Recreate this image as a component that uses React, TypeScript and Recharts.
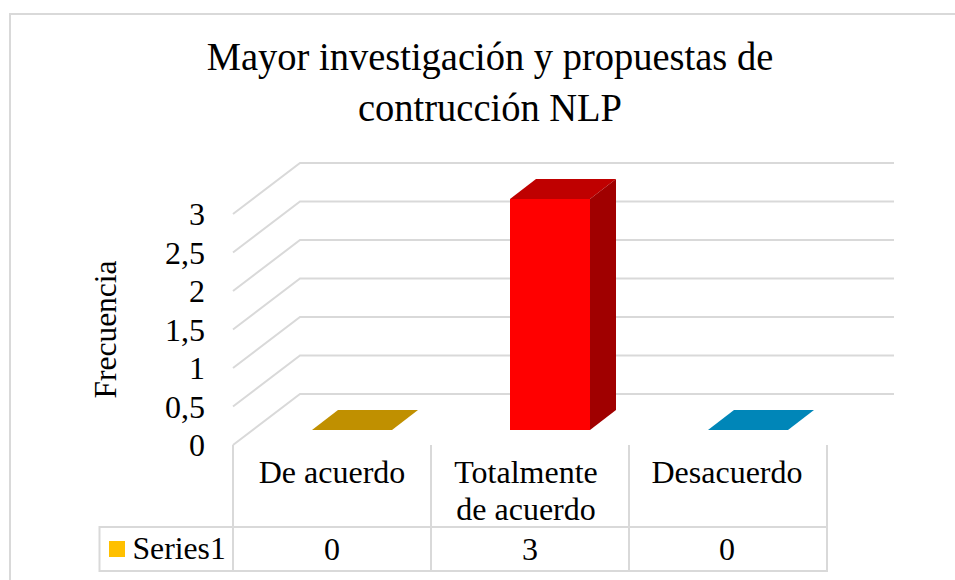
import React from "react";
import { BarChart, Bar, XAxis, YAxis, CartesianGrid, Customized } from "recharts";

const categories = ["De acuerdo", "Totalmente de acuerdo", "Desacuerdo"];
const categoryLines = [["De acuerdo"], ["Totalmente", "de acuerdo"], ["Desacuerdo"]];
const series1 = [0, 3, 0];
const yTicks = [0, 0.5, 1, 1.5, 2, 2.5, 3];
const titleLines = ["Mayor investigación y propuestas de", "contrucción NLP"];
const seriesName = "Series1";
const yTitle = "Frecuencia";

const frontColors = ["#ffc000", "#ff0000", "#00b0f0"];
const topColors = ["#c09000", "#bf0000", "#0086b8"];
const sideColors = ["#a07800", "#a00000", "#006f98"];

const data = categories.map((name, i) => ({ name, value: series1[i] }));

const W = 955;
const H = 580;
const LEFT = 233;
const RIGHT = 827;
const TOP = 214;
const BOTTOM = 445;
const BAND = (RIGHT - LEFT) / categories.length;
const WALL_DX = 67;
const WALL_DY = 51;
const BAR_SHIFT_X = 20;
const BAR_SHIFT_Y = 15;
const BAR_DX = 26;
const BAR_DY = 20;
const FONT = "'Liberation Serif', serif";
const LINE = "#d9d9d9";
const TABLE_BOTTOM = 571;
const ROW_TOP = 527;
const TABLE_LEFT = 99.5;

const GridLine = (p: any) => {
  const { x1, y1, x2 } = p;
  return (
    <polyline
      points={`${x1},${y1} ${x1 + WALL_DX},${y1 - WALL_DY} ${x2 + WALL_DX},${y1 - WALL_DY}`}
      fill="none"
      stroke={LINE}
      strokeWidth={2}
    />
  );
};

const Bar3D = (p: any) => {
  const { x, y, width, height, index } = p;
  const fx = x + BAR_SHIFT_X;
  const fy = y - BAR_SHIFT_Y;
  const h = height;
  return (
    <g>
      {h > 0 && <rect x={fx} y={fy} width={width} height={h} fill={frontColors[index]} />}
      <polygon
        points={`${fx},${fy} ${fx + BAR_DX},${fy - BAR_DY} ${fx + width + BAR_DX},${fy - BAR_DY} ${fx + width},${fy}`}
        fill={topColors[index]}
      />
      {h > 0 && (
        <polygon
          points={`${fx + width},${fy} ${fx + width + BAR_DX},${fy - BAR_DY} ${fx + width + BAR_DX},${fy + h - BAR_DY} ${fx + width},${fy + h}`}
          fill={sideColors[index]}
        />
      )}
    </g>
  );
};

const CategoryTick = (p: any) => {
  const { x, index } = p;
  const lines = categoryLines[index];
  const cx = lines.length > 1 ? x - 4 : x - (index === 2 ? 1 : 0);
  return (
    <g fontFamily={FONT} fontSize={32} fill="#000">
      {lines.map((l, i) => (
        <text key={l} x={cx} y={483 + i * 37} textAnchor="middle">
          {l}
        </text>
      ))}
      <text x={x - (index === 2 ? 1 : 0)} y={560} textAnchor="middle">
        {series1[index]}
      </text>
    </g>
  );
};

const Frame = () => (
  <g>
    <text transform="translate(490,70) scale(1,1.06)" textAnchor="middle" fontFamily={FONT} fontSize={38.5} fill="#000">
      {titleLines[0]}
    </text>
    <text transform="translate(490,121) scale(1,1.06)" textAnchor="middle" fontFamily={FONT} fontSize={38.5} fill="#000">
      {titleLines[1]}
    </text>
    {categories.map((_, i) => (
      <line key={i} x1={LEFT + i * BAND} x2={LEFT + i * BAND} y1={BOTTOM} y2={TABLE_BOTTOM} stroke={LINE} strokeWidth={2} />
    ))}
    <line x1={RIGHT} x2={RIGHT} y1={BOTTOM} y2={TABLE_BOTTOM} stroke={LINE} strokeWidth={2} />
    <rect x={TABLE_LEFT} y={ROW_TOP} width={RIGHT - TABLE_LEFT} height={TABLE_BOTTOM - ROW_TOP} fill="none" stroke={LINE} strokeWidth={2} />
    <rect x={109} y={541} width={16} height={16} fill={frontColors[0]} />
    <text x={132.5} y={559} fontFamily={FONT} fontSize={31.7} fill="#000">
      {seriesName}
    </text>
    <line x1={9} x2={W} y1={14} y2={14} stroke={LINE} strokeWidth={2} />
    <line x1={10} x2={10} y1={13} y2={H} stroke={LINE} strokeWidth={2} />
  </g>
);

export default function App() {
  return (
    <div style={{ position: "absolute", left: 0, top: 0, width: W, height: H, overflow: "hidden", background: "#fff" }}>
      <BarChart
        width={W}
        height={H}
        data={data}
        margin={{ top: TOP, right: W - RIGHT, bottom: 0, left: 0 }}
        barSize={80}
      >
        <CartesianGrid vertical={false} horizontal={GridLine as any} />
        <XAxis
          dataKey="name"
          height={H - BOTTOM}
          axisLine={false}
          tickLine={false}
          interval={0}
          tick={CategoryTick as any}
        />
        <YAxis
          width={LEFT}
          domain={[0, 3]}
          ticks={yTicks}
          interval={0}
          axisLine={false}
          tickLine={false}
          tickMargin={22}
          tickFormatter={(v: number) => String(v).replace(".", ",")}
          tick={{ fontFamily: FONT, fontSize: 32, fill: "#000" }}
          label={{
            value: yTitle,
            angle: -90,
            position: "insideLeft",
            offset: 105,
            style: { fontFamily: FONT, fontSize: 31.5, fill: "#000", textAnchor: "middle" },
          }}
        />
        <Bar dataKey="value" isAnimationActive={false} shape={Bar3D as any} />
        <Customized component={Frame} />
      </BarChart>
    </div>
  );
}
